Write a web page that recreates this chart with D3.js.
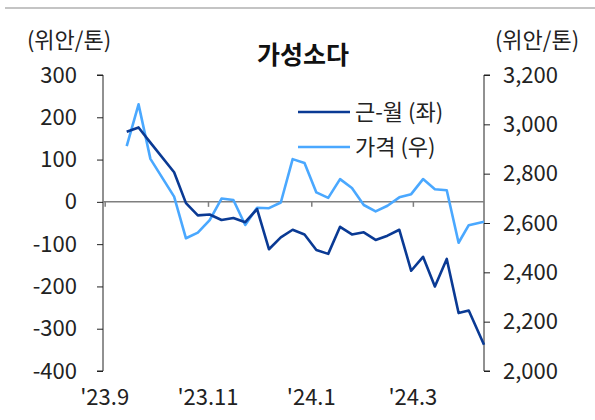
<!DOCTYPE html>
<html><head><meta charset="utf-8">
<script src="https://cdn.jsdelivr.net/npm/d3@7/dist/d3.min.js"></script>
<style>
html,body{margin:0;padding:0;background:#fff;}
svg{display:block;font-family:"Noto Sans CJK KR","Noto Sans",sans-serif;}
</style></head>
<body>
<svg id="chart" width="595" height="420"></svg>
<script>
const dates = ["2023-09-14","2023-09-21","2023-09-28","2023-10-12","2023-10-19","2023-10-26","2023-11-02","2023-11-09","2023-11-16","2023-11-23","2023-11-30","2023-12-07","2023-12-14","2023-12-21","2023-12-28","2024-01-04","2024-01-11","2024-01-18","2024-01-25","2024-02-01","2024-02-08","2024-02-15","2024-02-22","2024-02-29","2024-03-07","2024-03-14","2024-03-21","2024-03-28","2024-04-03","2024-04-12"];
const spread = [166,176,140,70,-3,-32,-30,-43,-38,-48,-17,-112,-84,-66,-77,-114,-123,-59,-77,-72,-90,-80,-66,-163,-130,-200,-135,-263,-257,-338];
const price = [2912,3081,2860,2707,2538,2561,2612,2699,2693,2592,2662,2660,2683,2859,2843,2724,2702,2778,2742,2673,2647,2670,2704,2717,2778,2737,2733,2520,2591,2605];
const leftTicks = [-400,-300,-200,-100,0,100,200,300];
const rightTicks = [2000,2200,2400,2600,2800,3000,3200];
const xTickDates = ["2023-09-01","2023-11-01","2024-01-01","2024-03-01"];
const xTickLabels = ["'23.9","'23.11","'24.1","'24.3"];
const seriesNames = ["근-월 (좌)","가격 (우)"];
const title = "가성소다";
const unitLabel = "(위안/톤)";

const parse = d3.timeParse("%Y-%m-%d");
const svg = d3.select("#chart");
const L = 103, R = 484, T = 75, B = 371;
const darkC = "#0a3a94", lightC = "#4aa8ff";
const FS = 22;

const x = d3.scaleTime().domain([parse("2023-08-31"), parse("2024-04-12")]).range([L, R]);
const yL = d3.scaleLinear().domain([-400,300]).range([B,T]);
const yR = d3.scaleLinear().domain([2000,3200]).range([B,T]);

// top rule
svg.append("line").attr("x1",5).attr("x2",595).attr("y1",8).attr("y2",8)
  .attr("stroke","#c4c4c4").attr("stroke-width",2);

// title & units
svg.append("text").attr("x",303).attr("y",64).attr("text-anchor","middle")
  .attr("font-size",25).attr("font-weight","bold").attr("fill","#111").text(title);
svg.append("text").attr("x",69).attr("y",48).attr("text-anchor","middle")
  .attr("font-size",FS).attr("fill","#222").text(unitLabel);
svg.append("text").attr("x",537).attr("y",48).attr("text-anchor","middle")
  .attr("font-size",FS).attr("fill","#222").text(unitLabel);

// left axis
const gl = svg.append("g").attr("transform",`translate(${L},0)`)
  .call(d3.axisLeft(yL).tickValues(leftTicks).tickSize(6).tickPadding(20).tickFormat(d=>String(d)));
gl.select(".domain").attr("stroke","#222").attr("d",`M-6,${T}H0V${B}H-6`);
gl.selectAll(".tick line").attr("stroke","#222");
gl.selectAll(".tick text").attr("font-size",FS).attr("fill","#222").attr("font-family","'Noto Sans CJK KR',sans-serif");

// right axis
const gr = svg.append("g").attr("transform",`translate(${R},0)`)
  .call(d3.axisRight(yR).tickValues(rightTicks).tickSize(6).tickPadding(13).tickFormat(d3.format(",")));
gr.select(".domain").attr("stroke","#222").attr("d",`M6,${T}H0V${B}H6`);
gr.selectAll(".tick line").attr("stroke","#222");
gr.selectAll(".tick text").attr("font-size",FS).attr("fill","#222").attr("font-family","'Noto Sans CJK KR',sans-serif");

// zero line with ticks
const gx = svg.append("g").attr("transform",`translate(0,${yL(0)})`)
  .call(d3.axisBottom(x).tickValues(xTickDates.map(parse)).tickSize(5).tickFormat(""));
gx.select(".domain").attr("stroke","#7f7f7f").attr("stroke-width",1.5).attr("d",`M${L},0H${R}`);
gx.selectAll(".tick line").attr("stroke","#7f7f7f").attr("stroke-width",1.5);

// bottom labels
svg.append("g").selectAll("text").data(xTickDates).join("text")
  .attr("x",d=>x(parse(d))).attr("y",405).attr("text-anchor","middle")
  .attr("font-size",FS).attr("fill","#222").text((d,i)=>xTickLabels[i]);

// lines
const pts = dates.map((d,i)=>({d:parse(d), s:spread[i], p:price[i]}));
svg.append("path").datum(pts).attr("fill","none").attr("stroke",lightC).attr("stroke-width",2.6)
  .attr("stroke-linejoin","round")
  .attr("d",d3.line().x(d=>x(d.d)).y(d=>yR(d.p)));
svg.append("path").datum(pts).attr("fill","none").attr("stroke",darkC).attr("stroke-width",2.6)
  .attr("stroke-linejoin","round")
  .attr("d",d3.line().x(d=>x(d.d)).y(d=>yL(d.s)));

// legend
const lg = svg.append("g");
[[darkC,112],[lightC,147]].forEach((c,i)=>{
  lg.append("line").attr("x1",298).attr("x2",350).attr("y1",c[1]).attr("y2",c[1])
    .attr("stroke",c[0]).attr("stroke-width",2.6);
  lg.append("text").attr("x",355).attr("y",c[1]+8).attr("font-size",FS).attr("fill","#222").text(seriesNames[i]);
});
</script>
</body></html>
